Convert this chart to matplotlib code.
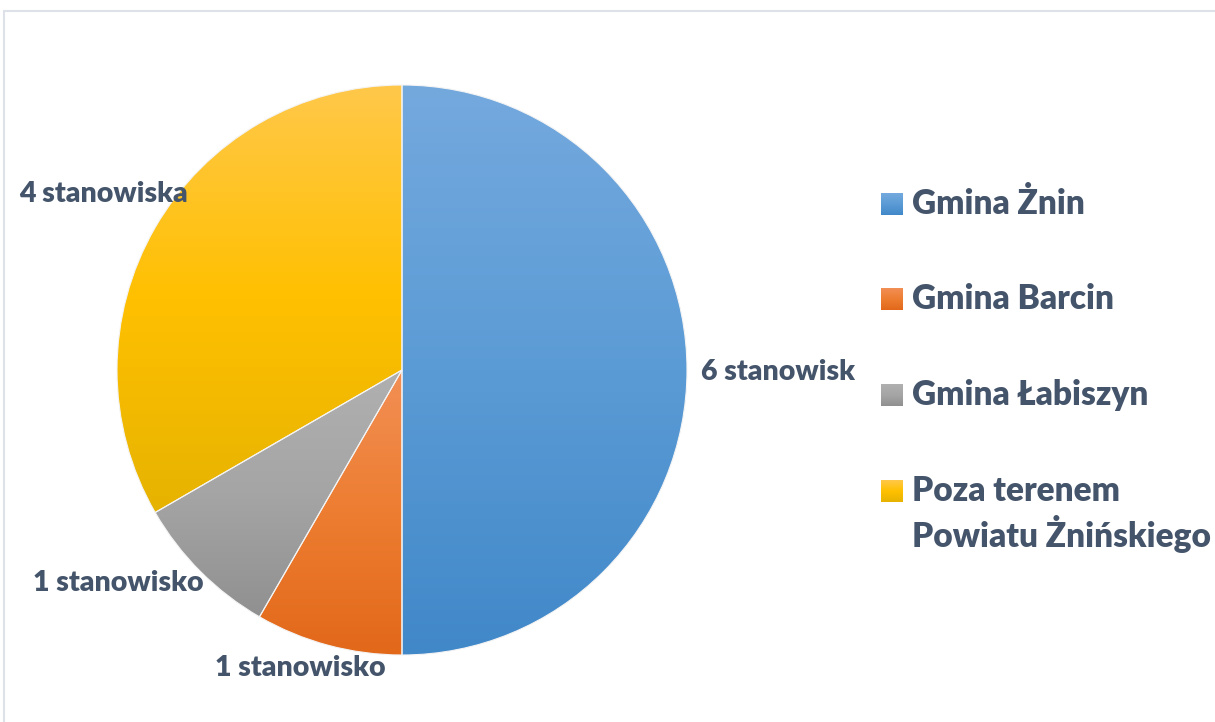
import numpy as np
import matplotlib.pyplot as plt
from matplotlib.colors import LinearSegmentedColormap
from matplotlib.patches import Rectangle

# data
labels = ['Gmina Żnin', 'Gmina Barcin', 'Gmina Łabiszyn', 'Poza terenem\nPowiatu Żnińskiego']
values = [6, 1, 1, 4]
value_labels = ['6 stanowisk', '1 stanowisko', '1 stanowisko', '4 stanowiska']
top_colors = ['#74a9de', '#f28f55', '#b0b0b0', '#ffc84a']
mid_colors = ['#5b9bd5', '#ed7d31', '#a5a5a5', '#ffc000']
bottom_colors = ['#4188c9', '#e2681a', '#909090', '#e6b300']

W, H = 1215, 722
fig = plt.figure(figsize=(W / 100, H / 100), dpi=100)
ax = fig.add_axes([0, 0, 1, 1])

font = ['Lato', 'DejaVu Sans']
txt_color = '#44546a'

cx, cy, r = 402, H - 370, 285
wedges, _ = ax.pie(values, startangle=90, counterclock=False,
                   center=(cx, cy), radius=r, frame=True,
                   wedgeprops=dict(edgecolor='#f4f4f4', linewidth=0.8))
ax.set_xlim(0, W)
ax.set_ylim(0, H)
ax.axis('off')

# frame
ax.add_patch(Rectangle((3.5, -50), W + 50, H - 10.5 + 50, fill=False,
                       edgecolor='#dde2e9', linewidth=1.5))

grad = np.linspace(0, 1, 256).reshape(-1, 1)
for w, c1, c0, c2 in zip(wedges, top_colors, mid_colors, bottom_colors):
    cmap = LinearSegmentedColormap.from_list('g', [c2, c0, c1])
    bb = w.get_path().get_extents()
    im = ax.imshow(grad, cmap=cmap, aspect='auto',
                   extent=(bb.x0, bb.x1, bb.y0, bb.y1), origin='lower', zorder=1)
    im.set_clip_path(w)
    w.set_facecolor('none')
    w.set_zorder(2)

# data labels
lab_pos = [(701, 372), (215, 668), (33, 583), (19, 194)]
for t, (x, y) in zip(value_labels, lab_pos):
    ax.text(x, H - y, t, ha='left', va='center', fontsize=20.5, fontweight='heavy',
            color=txt_color, family=font)

# legend
leg_y = [204, 299, 395, 491]
for lab, y, c1, c0, c2 in zip(labels, leg_y, top_colors, mid_colors, bottom_colors):
    cmap = LinearSegmentedColormap.from_list('g', [c2, c0, c1])
    ax.imshow(grad, cmap=cmap, aspect='auto', origin='lower',
              extent=(881, 903, H - y - 11, H - y + 11), zorder=1)
    if '\n' in lab:
        ax.text(912, H - 475, lab, ha='left', va='top', fontsize=24,
                fontweight='heavy', color=txt_color, family=font, linespacing=1.25)
    else:
        ax.text(912, H - y, lab, ha='left', va='center', fontsize=24,
                fontweight='heavy', color=txt_color, family=font)

ax.set_xlim(0, W)
ax.set_ylim(0, H)
fig.savefig('out.png', dpi=100)
